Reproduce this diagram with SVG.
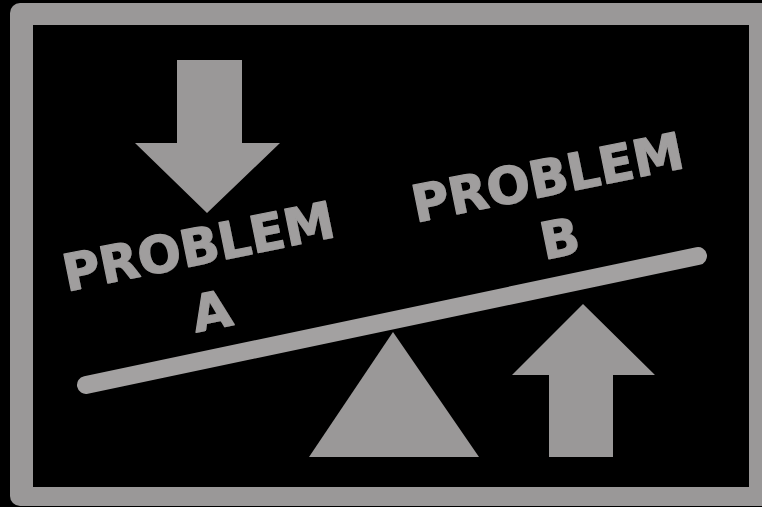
<svg xmlns="http://www.w3.org/2000/svg" width="762" height="507" viewBox="0 0 762 507">
  <defs>
    <filter id="emb" x="-10%" y="-10%" width="120%" height="130%">
      <feGaussianBlur in="SourceAlpha" stdDeviation="1.2" result="b"/>
      <feOffset in="b" dx="1.5" dy="2" result="o"/>
      <feFlood flood-color="#000" flood-opacity="0.8"/>
      <feComposite in2="o" operator="in" result="s"/>
      <feMerge><feMergeNode in="s"/><feMergeNode in="SourceGraphic"/></feMerge>
    </filter>
  </defs>
  <style>
    .g { fill: #9a9898; }
    .t { font-family: "DejaVu Sans", Verdana, sans-serif; font-weight: bold; font-size: 51px; fill: #a09e9e; stroke: #a09e9e; stroke-width: 1.2; stroke-linejoin: round; text-anchor: middle; }
  </style>
  <rect x="0" y="0" width="762" height="507" fill="#000"/>
  <g id="frame">
    <rect x="10" y="3" width="770" height="503" rx="10" class="g"/>
    <rect x="33" y="25" width="716" height="462" fill="#000"/>
  </g>
  <g id="arrow-down">
    <polygon class="g" points="177,60 242,60 242,143 280,143 207,213 135,143 177,143"/>
  </g>
  <g id="arrow-up">
    <polygon class="g" points="583,304 655,375 613,375 613,457 549,457 549,375 512,375"/>
  </g>
  <g id="fulcrum">
    <polygon class="g" points="393,332 479,457 309,457"/>
  </g>
  <g id="beam">
    <line x1="86" y1="385" x2="698" y2="256" stroke="#a3a1a1" stroke-width="18" stroke-linecap="round"/>
  </g>
  <g id="problem-a" filter="url(#emb)">
    <text class="t" transform="rotate(-11.5 202 264)" x="202" y="264" textLength="276" lengthAdjust="spacing">PROBLEM</text>
    <text class="t" transform="rotate(-11.5 202 264)" x="202" y="330">A</text>
  </g>
  <g id="problem-b" filter="url(#emb)">
    <text class="t" transform="rotate(-11.5 551 195)" x="551" y="195" textLength="276" lengthAdjust="spacing">PROBLEM</text>
    <text class="t" transform="rotate(-11.5 551 195)" x="551" y="257">B</text>
  </g>
  <g id="connectors"/>
</svg>
